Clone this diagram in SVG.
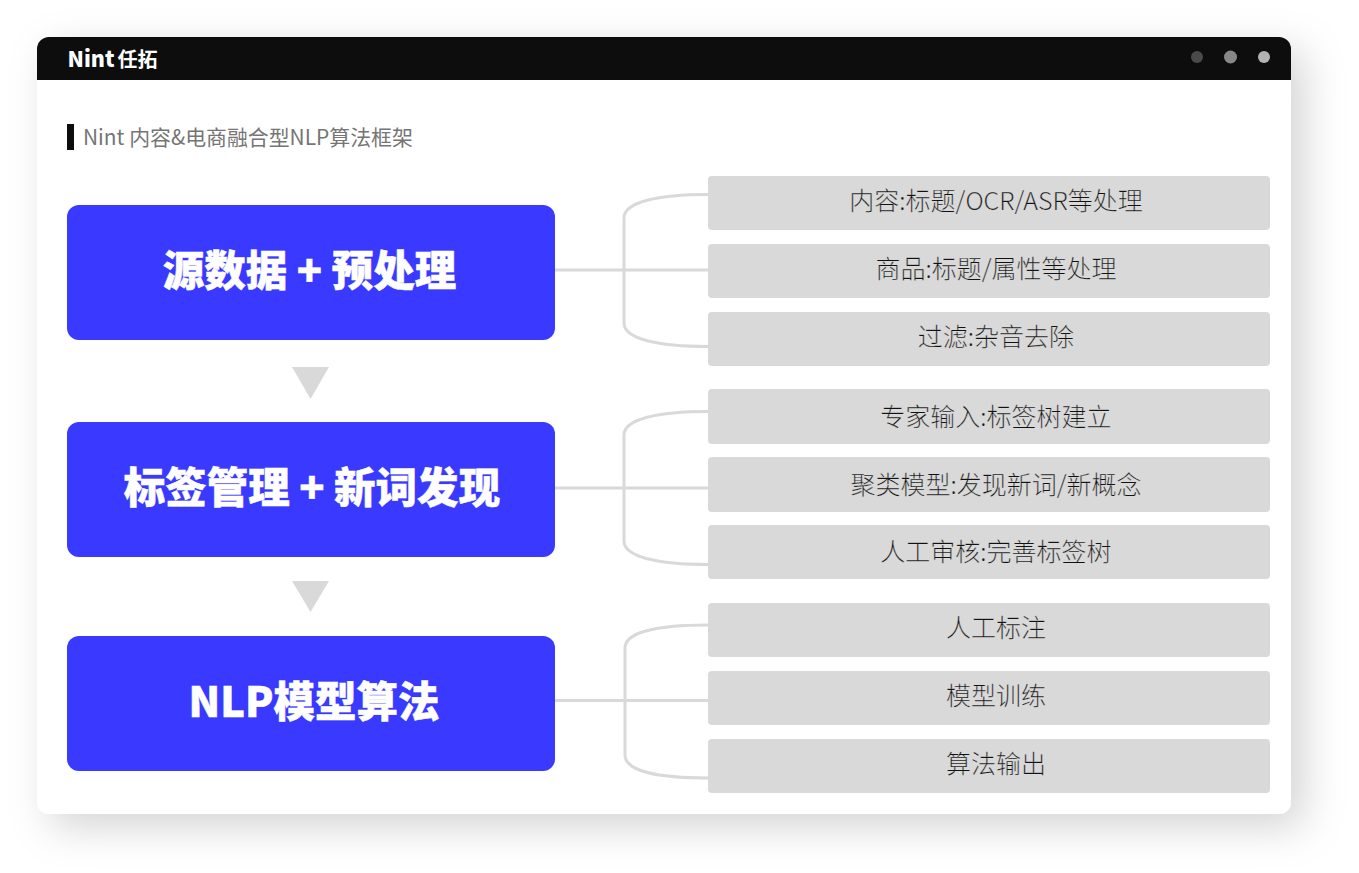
<svg xmlns="http://www.w3.org/2000/svg" width="1359" height="873" viewBox="0 0 1359 873">
<style>
text{font-family:"Noto Sans CJK SC","Noto Sans",sans-serif}
.main{fill:#3939ff}
.main-t{fill:#fff;stroke:#fff;stroke-width:.5;font-size:41.500px;font-weight:900;text-anchor:middle}
.sub{fill:#d9d9d9}
.sub-t{fill:#111;stroke:#d9d9d9;stroke-width:.25;font-size:25px;font-weight:300;text-anchor:middle}
.tri{fill:#d9d9d9}
.line{fill:none;stroke:#d9d9d9;stroke-width:3}
</style>
<defs>
<filter id="sh" x="-10%" y="-15%" width="125%" height="130%"><feDropShadow dx="13" dy="13" stdDeviation="20" flood-color="#000" flood-opacity=".17"/></filter>
</defs>
<rect width="1359" height="873" fill="#fff"/>
<g id="window">
<rect x="37" y="37" width="1254" height="777" rx="12" fill="#fff" filter="url(#sh)"/>
<path d="M37 80V49a12 12 0 0 1 12-12H1279a12 12 0 0 1 12 12V80Z" fill="#0d0d0d"/>
<text x="67.500" y="66.500" font-size="21.500" font-weight="900" fill="#fff">Nint<tspan x="117.500" font-size="20" font-weight="700">任拓</tspan></text>
<circle cx="1197" cy="57" r="6" fill="#4a4a4a"/>
<circle cx="1230.500" cy="57" r="6.500" fill="#878787"/>
<circle cx="1264" cy="57" r="6" fill="#b3b3b3"/>
</g>
<g id="title">
<rect x="67" y="124" width="7" height="26" fill="#0d0d0d"/>
<text x="83" y="145" font-size="20.900" fill="#757575">Nint 内容&amp;电商融合型NLP算法框架</text>
</g>
<g id="connectors">
<path class="line" d="M555 270H708M708 194.500C658 194.500 624 202 624 218V323C624 339 658 346.500 708 346.500"/>
<path class="line" d="M555 488H708M708 411.500C658 411.500 624 419 624 435V541C624 557 658 564.500 708 564.500"/>
<path class="line" d="M555 700.500H708M708 625C658 625 625 632 625 648V755C625 771 658 778 708 778"/>
</g>
<g id="n1"><rect class="main" x="67" y="205" width="488" height="135" rx="12"/><text class="main-t" x="309.500" y="286">源数据 + 预处理</text></g>
<g id="n2"><rect class="main" x="67" y="422" width="488" height="135" rx="12"/><text class="main-t" x="312" y="503">标签管理 + 新词发现</text></g>
<g id="n3"><rect class="main" x="67" y="636" width="488" height="135" rx="12"/><text class="main-t" x="314" y="717">NLP模型算法</text></g>
<polygon id="a1" class="tri" points="292,367 329,367 310.500,399"/>
<polygon id="a2" class="tri" points="292,581 329,581 310.500,612"/>
<g id="s1"><rect class="sub" x="708" y="176" width="562" height="54" rx="4"/><text class="sub-t" x="996" y="210">内容:标题/OCR/ASR等处理</text></g>
<g id="s2"><rect class="sub" x="708" y="244" width="562" height="54" rx="4"/><text class="sub-t" x="996" y="278">商品:标题/属性等处理</text></g>
<g id="s3"><rect class="sub" x="708" y="312" width="562" height="54" rx="4"/><text class="sub-t" x="996" y="346">过滤:杂音去除</text></g>
<g id="s4"><rect class="sub" x="708" y="389" width="562" height="55" rx="4"/><text class="sub-t" x="996" y="426">专家输入:标签树建立</text></g>
<g id="s5"><rect class="sub" x="708" y="457" width="562" height="55" rx="4"/><text class="sub-t" x="996" y="494">聚类模型:发现新词/新概念</text></g>
<g id="s6"><rect class="sub" x="708" y="525" width="562" height="54" rx="4"/><text class="sub-t" x="996" y="561">人工审核:完善标签树</text></g>
<g id="s7"><rect class="sub" x="708" y="603" width="562" height="54" rx="4"/><text class="sub-t" x="996" y="637">人工标注</text></g>
<g id="s8"><rect class="sub" x="708" y="671" width="562" height="54" rx="4"/><text class="sub-t" x="996" y="705">模型训练</text></g>
<g id="s9"><rect class="sub" x="708" y="739" width="562" height="54" rx="4"/><text class="sub-t" x="996" y="773">算法输出</text></g>
</svg>
